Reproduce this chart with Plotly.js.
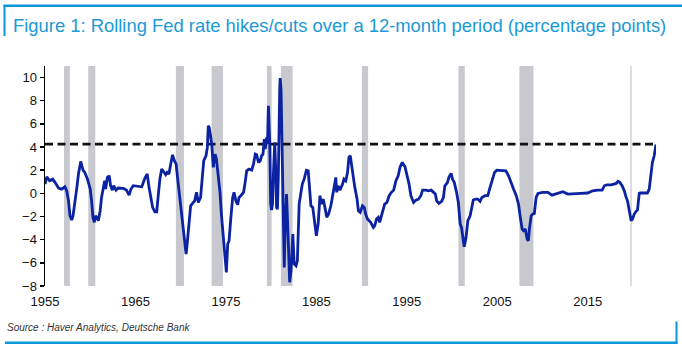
<!DOCTYPE html>
<html>
<head>
<meta charset="utf-8">
<script src="https://cdn.plot.ly/plotly-3.0.1.min.js"></script>
<style>
html,body{margin:0;padding:0;background:#fff;}
#chart{width:682px;height:352px;}
</style>
</head>
<body>
<div id="chart"></div>
<script>
// ---- data ----
const years = [
1955.0,1955.2,1955.5,1955.85,1956.1,1956.5,1956.85,1957.2,1957.4,1957.6,1957.76,1957.95,1958.1,1958.3,1958.5,1958.7,1958.95,1959.2,1959.4,1959.7,
1960.0,1960.15,1960.3,1960.45,1960.6,1960.9,1961.1,1961.25,1961.45,1961.6,1961.7,1961.9,1962.1,1962.25,1962.45,1962.6,1962.85,1963.1,1963.65,1964.0,
1964.3,1964.5,1964.75,1965.3,1965.7,1966.05,1966.3,1966.5,1966.7,1966.9,1967.15,1967.35,1967.5,1967.7,1967.9,1968.05,1968.35,1968.5,1968.7,1968.9,
1969.1,1969.3,1969.5,1969.65,1969.9,1970.1,1970.3,1970.45,1970.6,1970.7,1970.95,1971.1,1971.4,1971.55,1971.75,1971.95,1972.2,1972.4,1972.55,1972.8,
1972.95,1973.05,1973.15,1973.3,1973.45,1973.6,1973.8,1973.95,1974.15,1974.35,1974.5,1974.7,1974.9,1975.05,1975.2,1975.35,1975.55,1975.75,1975.9,1976.1,
1976.3,1976.45,1976.65,1976.95,1977.1,1977.3,1977.55,1977.85,1978.05,1978.25,1978.4,1978.6,1978.8,1978.95,1979.1,1979.25,1979.35,1979.5,1979.6,1979.7,
1979.85,1979.95,1980.05,1980.15,1980.25,1980.4,1980.5,1980.6,1980.7,1980.8,1980.95,1981.0,1981.1,1981.2,1981.35,1981.45,1981.55,1981.7,1981.8,1981.9,
1982.05,1982.2,1982.3,1982.4,1982.55,1982.75,1982.9,1983.1,1983.3,1983.45,1983.65,1983.9,1984.1,1984.2,1984.4,1984.6,1984.75,1985.0,1985.2,1985.4,
1985.55,1985.75,1985.95,1986.15,1986.35,1986.6,1986.8,1986.95,1987.15,1987.25,1987.4,1987.6,1987.9,1988.05,1988.25,1988.45,1988.6,1988.75,1988.9,1989.05,
1989.25,1989.5,1989.65,1989.85,1990.1,1990.3,1990.45,1990.65,1990.85,1991.0,1991.3,1991.45,1991.65,1991.85,1992.0,1992.2,1992.4,1992.55,1992.8,1993.05,
1993.3,1993.55,1993.8,1994.05,1994.25,1994.5,1994.8,1995.0,1995.25,1995.45,1995.75,1996.0,1996.3,1996.55,1996.75,1997.1,1997.4,1997.7,1997.95,1998.15,
1998.3,1998.55,1998.85,1999.05,1999.2,1999.5,1999.65,1999.9,2000.05,2000.25,2000.5,2000.7,2000.9,2001.05,2001.25,2001.35,2001.55,2001.75,2002.0,2002.2,
2002.35,2002.6,2002.85,2003.1,2003.3,2003.65,2003.95,2004.15,2004.4,2004.7,2004.95,2005.4,2005.95,2006.25,2006.5,2006.8,2007.1,2007.35,2007.55,2007.75,
2007.9,2008.1,2008.3,2008.45,2008.55,2008.75,2008.9,2009.1,2009.3,2009.5,2010.0,2010.6,2011.05,2011.5,2012.25,2012.8,2013.5,2014.25,2015.0,2015.55,
2016.1,2016.6,2016.85,2017.1,2017.6,2018.0,2018.15,2018.35,2018.55,2018.8,2019.05,2019.25,2019.4,2019.6,2019.8,2019.95,2020.15,2020.35,2020.5,2020.7,
2020.8,2021.25,2021.6,2021.8,2022.0,2022.15,2022.35,2022.55
];
const rateChange = [
0.8,1.43,1.09,1.23,0.95,0.46,0.37,0.57,0.22,-0.64,-1.93,-2.3,-1.93,-0.92,0.37,1.67,2.76,2.0,1.81,1.23,
0.37,-0.64,-2.07,-2.5,-1.93,-2.36,-1.5,-0.35,0.52,1.09,0.37,1.38,1.52,0.66,0.28,0.66,0.28,0.46,0.43,0.28,
-0.15,0.37,0.66,0.57,0.57,1.32,1.67,0.52,-0.35,-1.21,-1.59,-1.59,-0.35,1.23,2.1,1.95,1.61,1.81,1.67,2.53,
3.33,2.82,2.53,1.38,-0.35,-1.93,-3.08,-4.52,-5.24,-4.52,-2.65,-1.07,-0.78,-0.64,0.09,-0.78,-0.35,1.67,2.82,3.25,
3.97,5.84,5.7,4.97,4.11,2.25,3.39,2.96,1.38,0.09,-1.79,-3.8,-5.82,-6.82,-4.38,-4.09,-2.07,-0.35,0.09,-0.64,
-0.98,-0.35,-0.2,0.09,0.8,1.95,2.1,2.0,2.53,3.39,3.33,2.67,2.82,3.25,3.39,4.69,3.82,4.83,4.25,7.57,
4.25,-0.92,-1.44,-0.92,1.67,4.4,2.25,-1.21,-1.36,1.67,9.0,9.96,8.86,4.54,-1.79,-6.39,-2.65,-0.06,-2.07,-4.95,
-7.68,-6.68,-4.09,-3.51,-6.1,-6.25,-5.82,-0.92,0.09,0.8,1.23,2.0,1.95,0.8,-1.07,-1.21,-2.36,-3.66,-2.65,-0.2,
-0.92,-0.49,-1.21,-2.07,-1.79,-1.07,-0.2,0.52,1.38,0.09,0.66,0.28,0.8,1.23,1.09,1.81,3.11,3.25,2.38,1.38,
0.52,-0.49,-1.5,-1.64,-1.07,-1.21,-1.79,-2.22,-2.36,-2.5,-2.94,-2.8,-2.22,-2.07,-2.5,-1.93,-1.21,-0.92,-0.78,-0.2,
0.09,0.28,1.09,1.52,2.25,2.67,2.3,1.67,0.8,-0.2,-0.78,-0.58,-0.49,-0.2,0.28,0.28,0.22,0.28,0.09,-0.06,
-0.64,-0.86,-0.69,-0.35,0.63,0.95,1.38,1.73,1.23,0.95,0.09,-0.78,-2.65,-2.94,-4.09,-4.61,-3.8,-2.36,-1.93,-0.92,
-0.58,-0.49,-0.49,-0.69,-0.35,-0.2,-0.2,0.37,1.09,1.81,2.0,2.0,1.95,1.52,0.95,0.37,-0.2,-0.92,-2.07,-3.08,
-3.23,-3.08,-3.95,-4.09,-3.08,-1.93,-1.79,-1.73,-0.35,0.0,0.09,0.09,-0.15,-0.06,0.14,-0.06,-0.06,0.0,0.03,0.22,
0.28,0.28,0.66,0.74,0.74,0.8,0.86,1.04,0.95,0.66,0.22,-0.35,-0.64,-1.5,-2.36,-2.22,-1.79,-1.55,-1.44,0.0,
0.03,0.03,0.03,0.37,1.67,2.67,3.25,4.23
];
const thresholdLevel = 4.25;
const recessionStart = [1957.1, 1959.78, 1969.47, 1973.42, 1979.53, 1981.08, 1990.03, 2000.71, 2007.45, 2019.67];
const recessionEnd   = [1957.75, 1960.56, 1970.36, 1974.67, 1980.05, 1982.37, 1990.72, 2001.41, 2009.0, 2019.9];
const xTickYears = [1955, 1965, 1975, 1985, 1995, 2005, 2015];
const xTickLabels = ['1955', '1965', '1975', '1985', '1995', '2005', '2015'];
const yTickVals = [-8, -6, -4, -2, 0, 2, 4, 6, 8, 10];
const titleText = 'Figure 1: Rolling Fed rate hikes/cuts over a 12-month period (percentage points)';
const sourceText = 'Source : Haver Analytics, Deutsche Bank';

// ---- layout geometry ----
const W = 682, H = 352;
const M = {l: 45, r: 26, t: 66, b: 66};
const PW = W - M.l - M.r, PH = H - M.t - M.b;
const xRange = [1955, 2022.55];
const yRange = [-8, 11];
const px = x => (x - M.l) / PW;          // pixel -> paper x
const py = y => (H - M.b - y) / PH;      // pixel -> paper y
const BLUE = '#0a96d8';
const FONT = 'Liberation Sans, Arial, sans-serif';

const shapes = [];
recessionStart.forEach((s, i) => {
  const last = i === recessionStart.length - 1;
  shapes.push({type: 'rect', xref: 'x', yref: 'paper', x0: s, x1: recessionEnd[i], y0: 0, y1: 1,
    fillcolor: last ? '#dcdce2' : '#c8c8cf', line: {width: 0}, layer: 'below'});
});
// frame decoration
shapes.push({type: 'line', xref: 'paper', yref: 'paper', x0: px(3.5), x1: px(682), y0: py(5.8), y1: py(5.8), line: {color: BLUE, width: 2.5}});
shapes.push({type: 'line', xref: 'paper', yref: 'paper', x0: px(4.5), x1: px(4.5), y0: py(5), y1: py(36), line: {color: BLUE, width: 2}});
shapes.push({type: 'line', xref: 'paper', yref: 'paper', x0: px(5), x1: px(677.5), y0: py(342.7), y1: py(342.7), line: {color: BLUE, width: 2.5}});
shapes.push({type: 'line', xref: 'paper', yref: 'paper', x0: px(676.5), x1: px(676.5), y0: py(321.5), y1: py(343.5), line: {color: BLUE, width: 2}});

const traces = [
  {x: [years[0], years[years.length - 1]], y: [thresholdLevel, thresholdLevel], type: 'scatter', mode: 'lines',
   line: {color: '#111', width: 2.6, dash: '8px,4.5px'}, hoverinfo: 'skip'},
  {x: years, y: rateChange, type: 'scatter', mode: 'lines',
   line: {color: '#0b22a2', width: 2.8}, hoverinfo: 'skip'}
];

const layout = {
  width: W, height: H,
  margin: M,
  paper_bgcolor: '#fff', plot_bgcolor: 'rgba(0,0,0,0)',
  showlegend: false,
  font: {family: FONT, size: 13, color: '#111'},
  title: {text: titleText, xref: 'container', yref: 'container', x: 13 / W, xanchor: 'left',
          y: 1 - 25.5 / H, yanchor: 'middle', font: {family: FONT, size: 18.4, color: '#1a9ad6'}},
  xaxis: {range: xRange, tickvals: xTickYears, ticktext: xTickLabels, showline: false, showgrid: false,
          zeroline: false, ticks: '', tickfont: {family: FONT, size: 13, color: '#111'}, ticklabelstandoff: 6},
  xaxis2: {range: xRange, overlaying: 'x', anchor: 'free', position: (0 - yRange[0]) / (yRange[1] - yRange[0]),
           side: 'bottom', showline: true, linecolor: '#000', linewidth: 1.5, ticks: 'outside', ticklen: 3,
           tickwidth: 1.5, tickcolor: '#000', tickvals: xTickYears, showticklabels: false, showgrid: false, zeroline: false},
  yaxis: {range: yRange, tickvals: yTickVals, showline: true, linecolor: '#000', linewidth: 1.5, ticks: 'outside',
          ticklen: 4, tickwidth: 1.5, tickcolor: '#000', showgrid: false, zeroline: false,
          tickfont: {family: FONT, size: 13, color: '#111'}},
  shapes: shapes,
  annotations: [{text: '<i>' + sourceText + '</i>', xref: 'paper', yref: 'paper', x: px(5), y: py(327.5),
                 xanchor: 'left', yanchor: 'middle', showarrow: false, font: {family: FONT, size: 10, color: '#333'}}]
};

Plotly.newPlot('chart', traces, layout, {staticPlot: true, displayModeBar: false});
</script>
</body>
</html>
